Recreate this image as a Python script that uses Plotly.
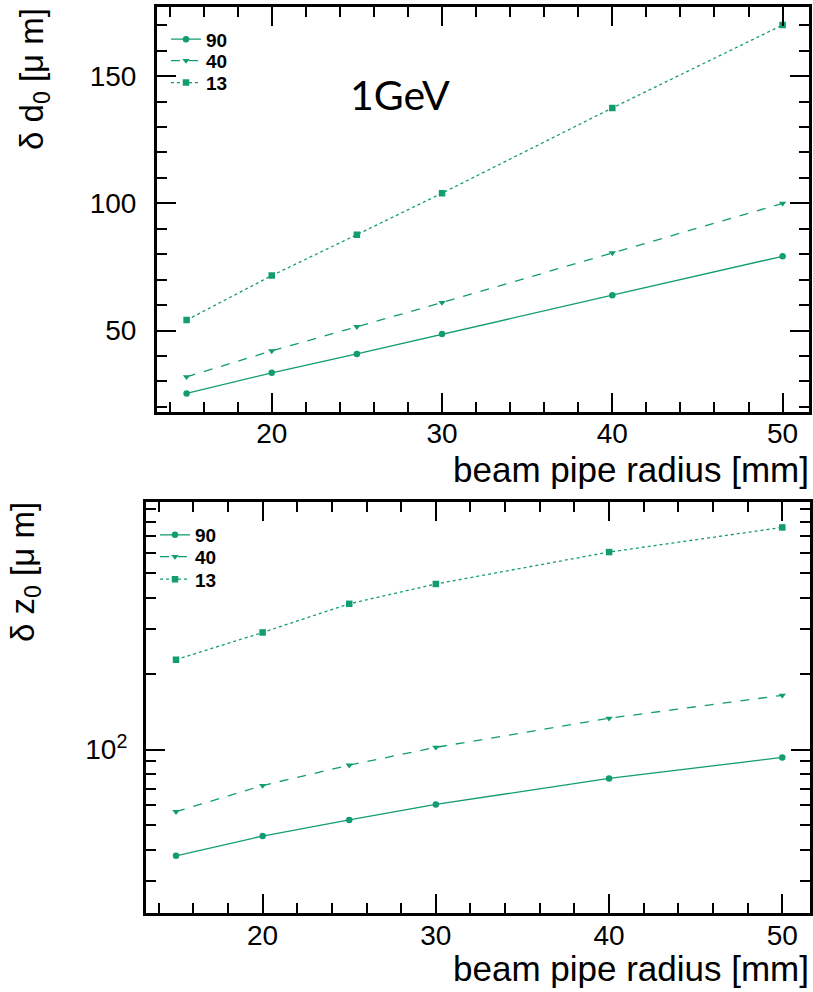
import plotly.graph_objects as go

# ---- data ----
radius = [15, 20, 25, 30, 40, 50]
labels = ["90", "40", "13"]
d0_90 = [25.3, 33.4, 40.8, 48.6, 63.9, 79.2]
d0_40 = [31.8, 42.0, 51.5, 61.0, 80.5, 100.0]
d0_13 = [54.1, 71.6, 87.7, 104.0, 137.5, 170.1]
z0_90 = [37.9, 45.4, 52.6, 60.6, 76.8, 93.0]
z0_40 = [56.7, 72.0, 86.7, 102.0, 133.0, 164.0]
z0_13 = [227.0, 291.0, 378.0, 453.0, 606.0, 759.0]

xticks = [20, 30, 40, 50]
xminor_vals = [14, 16, 18, 22, 24, 26, 28, 32, 34, 36, 38, 42, 44, 46, 48, 50]
y1ticks = [50, 100, 150]
y1minor_vals = [20, 30, 40, 60, 70, 80, 90, 110, 120, 130, 140, 160, 170]
y2ticks = [100]
y2ticktext = ["10<sup>2</sup>"]
y2minor_vals = [30, 40, 50, 60, 70, 80, 90, 200, 300, 400, 500, 600, 700, 800, 900]

GREEN = "#129c72"
FONT = "Liberation Sans, Arial, sans-serif"
W, H = 813, 992

styles = [("solid", "circle", 6.5), ("dash", "triangle-down", 6.5), ("dot", "square", 6.5)]


def px_x(p):
    return p / W


def px_y(p):
    return 1 - p / H


fig = go.Figure()
legend_layout = {}
top_leg_y = [39.3, 60.7, 82.7]
bot_leg_y = [535.0, 556.7, 579.3]
k = 1
for series, xa, ya, leg_ys, leg_x in [
    ([d0_90, d0_40, d0_13], "x", "y", top_leg_y, 166),
    ([z0_90, z0_40, z0_13], "x2", "y2", bot_leg_y, 155),
]:
    for lab, ys, (dash, sym, ms), ly in zip(labels, series, styles, leg_ys):
        lname = "legend" if k == 1 else f"legend{k}"
        fig.add_trace(go.Scatter(x=radius, y=ys, mode="lines+markers", name=lab,
                                 line=dict(color=GREEN, width=1.3, dash=dash),
                                 marker=dict(color=GREEN, symbol=sym, size=ms),
                                 xaxis=xa, yaxis=ya, legend=lname))
        legend_layout[lname] = dict(
            x=px_x(leg_x), y=px_y(ly), xanchor="left", yanchor="middle",
            bgcolor="rgba(0,0,0,0)", borderwidth=0, itemwidth=30,
            font=dict(family=FONT, size=19, color="black", weight="bold"))
        k += 1

axis_common = dict(showline=True, linecolor="black", linewidth=2.6, mirror="ticks",
                   ticks="inside", ticklen=19, tickwidth=2.2, tickcolor="black",
                   showgrid=False, zeroline=False, automargin=False,
                   tickfont=dict(family=FONT, size=28, color="black"))


def minor(vals):
    return dict(ticks="inside", ticklen=10, tickwidth=2, tickcolor="black",
                tickmode="array", tickvals=vals)


fig.update_layout(
    width=W, height=H, margin=dict(l=0, r=0, t=0, b=0, autoexpand=False),
    paper_bgcolor="white", plot_bgcolor="white", showlegend=True,
    xaxis=dict(domain=[px_x(156.8), px_x(809)], range=[13.25, 51.55], anchor="y",
               tickmode="array", tickvals=xticks, minor=minor(xminor_vals),
               ticklabelstandoff=-5, **axis_common),
    yaxis=dict(domain=[px_y(411.7), px_y(6.7)], range=[18.1, 177.3], anchor="x",
               tickmode="array", tickvals=y1ticks, minor=minor(y1minor_vals),
               ticklabelstandoff=12, **axis_common),
    xaxis2=dict(domain=[px_x(145.7), px_x(810)], range=[13.25, 51.6], anchor="y2",
                tickmode="array", tickvals=xticks, minor=minor(xminor_vals),
                ticklabelstandoff=-4, **axis_common),
    yaxis2=dict(domain=[px_y(912.5), px_y(502)], type="log", range=[1.354, 2.981], anchor="x2",
                tickmode="array", tickvals=y2ticks, ticktext=y2ticktext, minor=minor(y2minor_vals),
                ticklabelstandoff=10, **axis_common),
    annotations=[
        dict(text="1GeV", x=px_x(400), y=px_y(95), xref="paper", yref="paper",
             showarrow=False, xanchor="center", yanchor="middle",
             font=dict(family="Lato, sans-serif", size=41, color="black")),
        dict(text="beam pipe radius [mm]", x=px_x(811), y=px_y(469), xref="paper", yref="paper",
             showarrow=False, xanchor="right", yanchor="middle",
             font=dict(family=FONT, size=35, color="black")),
        dict(text="beam pipe radius [mm]", x=px_x(811), y=px_y(968), xref="paper", yref="paper",
             showarrow=False, xanchor="right", yanchor="middle",
             font=dict(family=FONT, size=35, color="black")),
        dict(text="δ d<sub>0</sub> [μ m]", x=px_x(34), y=px_y(6), xref="paper", yref="paper",
             showarrow=False, xanchor="center", yanchor="top", textangle=-90,
             font=dict(family=FONT, size=33, color="black")),
        dict(text="δ z<sub>0</sub> [μ m]", x=px_x(25), y=px_y(500), xref="paper", yref="paper",
             showarrow=False, xanchor="center", yanchor="top", textangle=-90,
             font=dict(family=FONT, size=33, color="black")),
    ],
    **legend_layout,
)

fig.write_html("out.html", config={"displayModeBar": False},
               post_script="document.body.style.margin='0';document.body.style.overflow='hidden';")
